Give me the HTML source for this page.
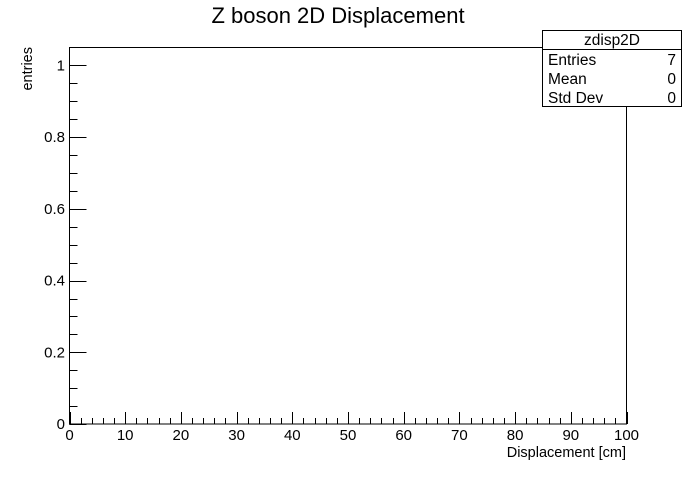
<!DOCTYPE html>
<html><head><meta charset="utf-8"><style>
body{margin:0;background:#fff}
svg text{font-family:"Liberation Sans",sans-serif;fill:#000}
</style></head><body>
<svg width="696" height="472" viewBox="0 0 696 472" xmlns="http://www.w3.org/2000/svg">
<rect width="696" height="472" fill="#fff"/>
<text x="338" y="23" font-size="22" text-anchor="middle">Z boson 2D Displacement</text>
<rect x="69.5" y="47.5" width="557" height="376.5" fill="none" stroke="#000" stroke-width="1"/>
<g id="axes"></g>
<text x="626" y="457" font-size="14.5" text-anchor="end">Displacement [cm]</text>
<text transform="translate(32,47) rotate(-90)" font-size="14.5" text-anchor="end">entries</text>
<g>
<rect x="542.5" y="30.5" width="139" height="76" fill="#fff" stroke="#000"/>
<line x1="542.5" y1="49.5" x2="681.5" y2="49.5" stroke="#000"/>
<text x="612" y="45" font-size="15.5" text-anchor="middle">zdisp2D</text>
<text x="548" y="65" font-size="15.5">Entries</text><text x="676" y="65" font-size="15.5" text-anchor="end">7</text>
<text x="548" y="84" font-size="15.5">Mean</text><text x="676" y="84" font-size="15.5" text-anchor="end">0</text>
<text x="548" y="103" font-size="15.5">Std Dev</text><text x="676" y="103" font-size="15.5" text-anchor="end">0</text>
</g>
</svg>
<script>
const xTicks=[0,10,20,30,40,50,60,70,80,90,100];
const yTicks=[0,0.2,0.4,0.6,0.8,1];
const yTickLabels=["0","0.2","0.4","0.6","0.8","1"];
const xMin=0,xMax=100,yMin=0,yMax=1.05;
const L=69.5,R=626.5,T=47.5,B=424;
const xs=v=>L+(v-xMin)/(xMax-xMin)*(R-L);
const ys=v=>B-(v-yMin)/(yMax-yMin)*(B-T);
const NS="http://www.w3.org/2000/svg";
const g=document.getElementById('axes');
function ln(x1,y1,x2,y2){const l=document.createElementNS(NS,'line');l.setAttribute('x1',x1);l.setAttribute('y1',y1);l.setAttribute('x2',x2);l.setAttribute('y2',y2);l.setAttribute('stroke','#000');g.appendChild(l);return l;}
function tx(x,y,s,a){const t=document.createElementNS(NS,'text');t.setAttribute('x',x);t.setAttribute('y',y);t.setAttribute('font-size','15');t.setAttribute('text-anchor',a);t.textContent=s;g.appendChild(t);return t;}
for(let v=xMin;v<=xMax+1e-9;v+=2){const x=Math.round(xs(v))+0.5;const major=Math.abs(v%10)<1e-9;const l=ln(x,B,x,B-(major?12:6));

}
xTicks.forEach(v=>{const t=tx(xs(v),440,String(v),'middle');

});
for(let i=0;i*0.05<=yMax-0.02;i++){const v=i*0.05;const y=Math.round(ys(v))+0.5;const major=i%4===0;const l=ln(L,y,L+(major?17:8),y);

}
yTicks.forEach((v,i)=>{const t=tx(65,ys(v)+5,yTickLabels[i],'end');

});
</script>
</body></html>
